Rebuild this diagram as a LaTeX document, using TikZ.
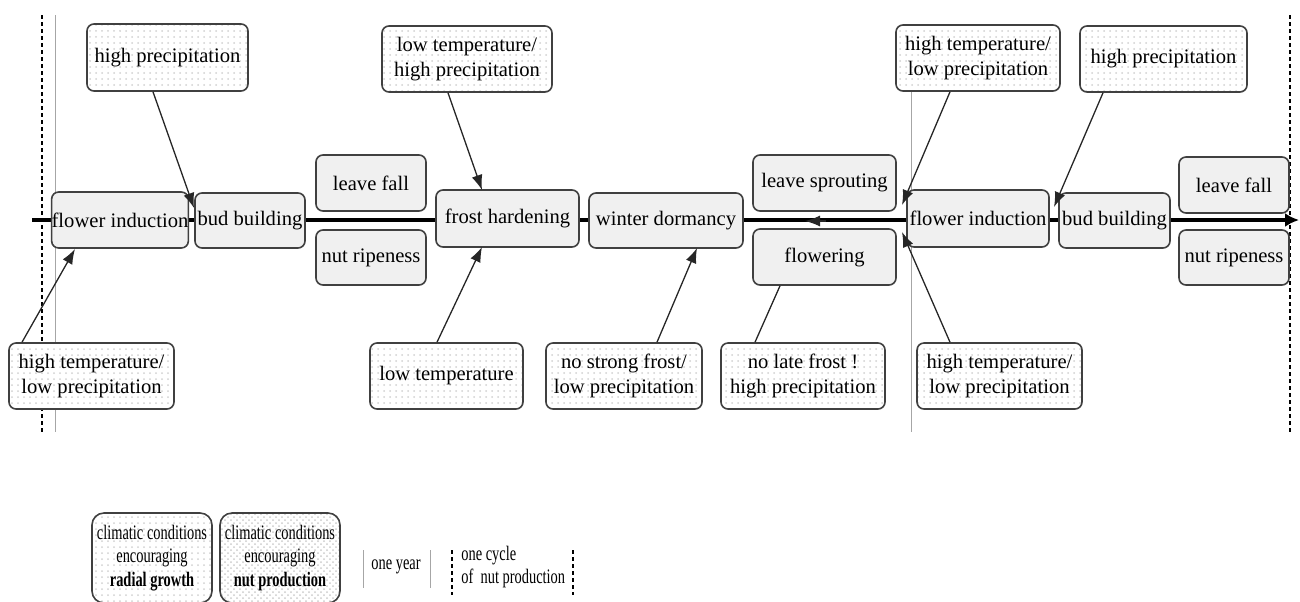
\documentclass[tikz,border=0pt]{standalone}
\usepackage{fontspec}
\setmainfont{Liberation Serif}
\usepackage{graphicx}
\usetikzlibrary{arrows.meta,patterns}
\newcommand\cnd[1]{\scalebox{0.7}[1]{#1}}
\begin{document}
\begin{tikzpicture}[x=0.5pt,y=-0.5pt,
  font=\fontsize{10.3}{12.6}\selectfont,
  base/.style={draw=black!75, line width=0.8pt, rounded corners=3.5pt, inner sep=0pt, align=center},
  sz/.style 2 args={minimum width=#1*0.5pt, minimum height=#2*0.5pt},
  stage/.style={base, fill=black!6},
  cond/.style={base, preaction={fill=white}, pattern=dots, pattern color=black!18},
  conddense/.style={base, rounded corners=6pt, preaction={fill=white}, pattern=crosshatch dots, pattern color=black!20},
  condlight/.style={base, rounded corners=6pt, preaction={fill=white}, pattern=dots, pattern color=black!18},
  arr/.style={line width=0.65pt, draw=black!85, -{Latex[length=7.5pt,width=5.5pt]}},
  plain/.style={line width=0.65pt, draw=black!85},
  cycleline/.style={line width=0.7pt, dash pattern=on 2pt off 1.5pt},
  yearline/.style={line width=0.5pt, draw=black!35},
  mainline/.style={line width=2.1pt, -{Latex[length=7pt,width=7pt]}}
]
\useasboundingbox (0,0) rectangle (1300,601);

% vertical boundary lines
\coordinate (d1a) at (42,15);   \coordinate (d1b) at (42,432);
\coordinate (g1a) at (55,15);   \coordinate (g1b) at (55,432);
\coordinate (g2a) at (911,91);  \coordinate (g2b) at (911,432);
\coordinate (d2a) at (1290,15); \coordinate (d2b) at (1290,432);
\draw[cycleline] (d1a) -- (d1b);
\draw[yearline] (g1a) -- (g1b);
\draw[yearline] (g2a) -- (g2b);
\draw[cycleline] (d2a) -- (d2b);

% main time line
\coordinate (ml0) at (32,220);
\coordinate (ml1) at (1299,220);
\draw[mainline] (ml0) -- (ml1);
\coordinate (la0) at (826,221);
\coordinate (la1) at (805,221);
\draw[arr] (la0) -- (la1);

% stage boxes
\node[stage, sz={132}{56}] (fi1) at (120,220) {flower induction};
\node[stage, sz={110}{55}] (bb1) at (250,220.5) {bud building};
\node[stage, sz={110}{56}] (lf1) at (371,183) {leave fall};
\node[stage, sz={110}{55}] (nr1) at (371,257.5) {nut ripeness};
\node[stage, sz={143}{57}] (fh) at (507.5,218.5) {frost hardening};
\node[stage, sz={154}{55}] (wd) at (666,220.5) {winter dormancy};
\node[stage, sz={143}{56}] (ls) at (824.5,183) {leave sprouting};
\node[stage, sz={143}{56}] (fl) at (824.5,257) {flowering};
\node[stage, sz={142}{57}] (fi2) at (978,218.5) {flower induction};
\node[stage, sz={111}{55}] (bb2) at (1114.5,220.5) {bud building};
\node[stage, sz={110}{56}] (lf2) at (1234,185) {leave fall};
\node[stage, sz={110}{55}] (nr2) at (1234,257.5) {nut ripeness};

% condition boxes
\node[cond, sz={161}{67}] (hp1) at (167.5,57.5) {high precipitation};
\node[cond, sz={170}{66}] (lthp) at (467,59) {low temperature/\\high precipitation};
\node[cond, sz={164}{66}] (htt) at (978,58) {high temperature/\\low precipitation};
\node[cond, sz={167}{66}] (hp2) at (1163.5,59) {high precipitation};
\node[cond, sz={165}{66}] (htb1) at (91.5,376) {high temperature/\\low precipitation};
\node[cond, sz={153}{66}] (lt) at (446.5,376) {low temperature};
\node[cond, sz={156}{66}] (nsf) at (624,376) {no strong frost/\\low precipitation};
\node[cond, sz={164}{66}] (nlf) at (803,376) {no late frost !\\high precipitation};
\node[cond, sz={165}{66}] (htb2) at (999.5,376) {high temperature/\\low precipitation};

% influence arrows
\coordinate (t1) at (194,208);
\coordinate (t2) at (75,249);
\coordinate (t3) at (482,190);
\coordinate (t4) at (482,247);
\coordinate (t5) at (697,248);
\coordinate (t7) at (902,205);
\coordinate (t8) at (902,232);
\coordinate (t9) at (1054,207);
\draw[arr] ([xshift=-7.25pt]hp1.south) -- (t1);
\draw[arr] ([xshift=-34.75pt]htb1.north) -- (t2);
\draw[arr] ([xshift=-9.5pt]lthp.south) -- (t3);
\draw[arr] ([xshift=-4.75pt]lt.north) -- (t4);
\draw[arr] ([xshift=16.5pt]nsf.north) -- (t5);
\draw[plain] ([xshift=-24pt]nlf.north) -- ([xshift=-22.25pt]fl.south);
\draw[arr] ([xshift=-14pt]htt.south) -- (t7);
\draw[arr] ([xshift=-24.75pt]htb2.north) -- (t8);
\draw[arr] ([xshift=-30.25pt]hp2.south) -- (t9);

% legend
\node[condlight, sz={120}{90}] (lg1) at (152,558)
  {\cnd{climatic conditions}\\[-1pt]\cnd{encouraging}\\[-1pt]\cnd{\textbf{radial growth}}};
\node[conddense, sz={120}{90}] (lg2) at (280,558)
  {\cnd{climatic conditions}\\[-1pt]\cnd{encouraging}\\[-1pt]\cnd{\textbf{nut production}}};

\coordinate (y1a) at (363,550); \coordinate (y1b) at (363,588);
\coordinate (y2a) at (430,550); \coordinate (y2b) at (430,588);
\draw[yearline] (y1a) -- (y1b);
\draw[yearline] (y2a) -- (y2b);
\node (oy) at (396,567) {\cnd{one year}};

\coordinate (c1a) at (452,550); \coordinate (c1b) at (452,595);
\coordinate (c2a) at (573,550); \coordinate (c2b) at (573,595);
\draw[cycleline] (c1a) -- (c1b);
\draw[cycleline] (c2a) -- (c2b);
\node[anchor=west, align=left, inner sep=0pt] (oc) at (461,567)
  {\cnd{one cycle}\\[-1pt]\cnd{of\ \ nut production}};
\end{tikzpicture}
\end{document}
